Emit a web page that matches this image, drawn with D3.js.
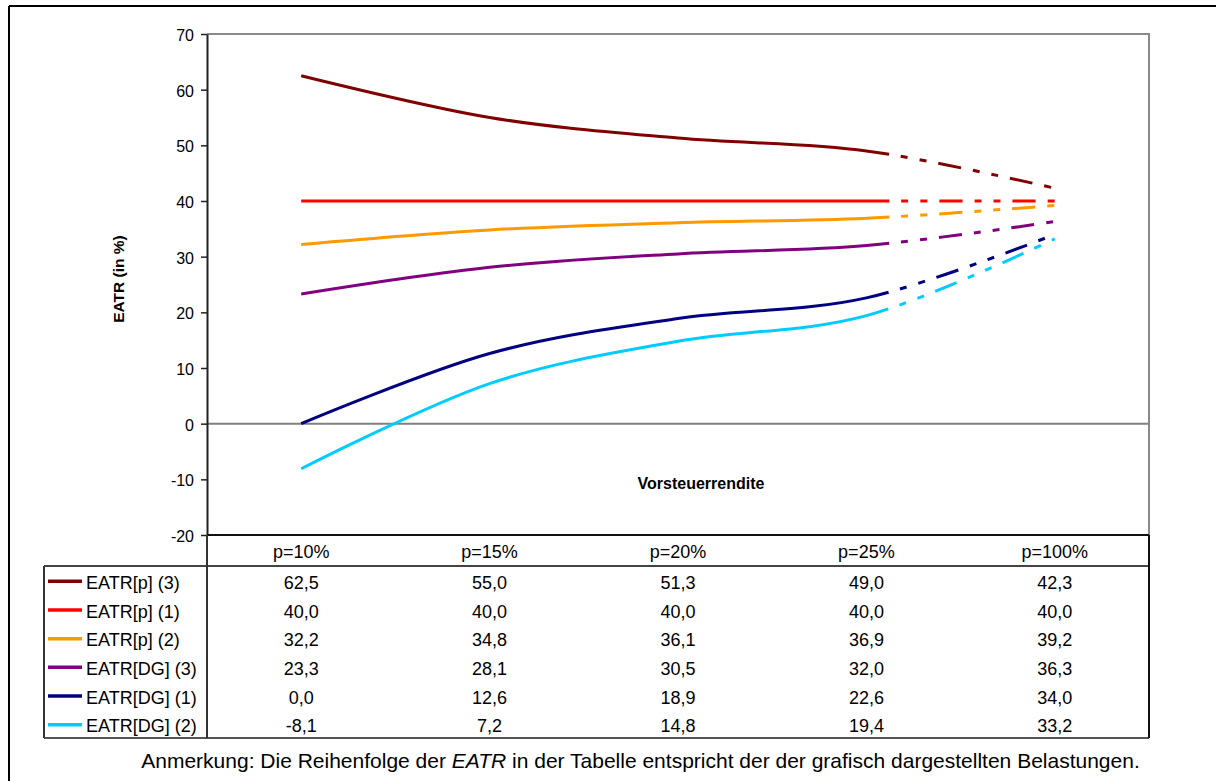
<!DOCTYPE html>
<html>
<head>
<meta charset="utf-8">
<script src="https://cdn.jsdelivr.net/npm/d3@7"></script>
<style>
  html, body { margin: 0; padding: 0; background: #fff; }
  svg { display: block; font-family: "Liberation Sans", Arial, sans-serif; }
</style>
</head>
<body>
<svg id="chart" width="1216" height="781"></svg>
<script>
// Pre-tax return categories (columns of the data table)
const categories = ["p=10%", "p=15%", "p=20%", "p=25%", "p=100%"];

// Effective average tax rates in %
const eatrP3  = [62.5, 55.0, 51.3, 49.0, 42.3];
const eatrP1  = [40.0, 40.0, 40.0, 40.0, 40.0];
const eatrP2  = [32.2, 34.8, 36.1, 36.9, 39.2];
const eatrDG3 = [23.3, 28.1, 30.5, 32.0, 36.3];
const eatrDG1 = [0.0, 12.6, 18.9, 22.6, 34.0];
const eatrDG2 = [-8.1, 7.2, 14.8, 19.4, 33.2];

const seriesLabels = ["EATR[p] (3)", "EATR[p] (1)", "EATR[p] (2)", "EATR[DG] (3)", "EATR[DG] (1)", "EATR[DG] (2)"];
const seriesValues = [eatrP3, eatrP1, eatrP2, eatrDG3, eatrDG1, eatrDG2];
const seriesColors = ["#800000", "#FF0000", "#FF9900", "#800080", "#000080", "#00CCFF"];

const yTicks = [-20, -10, 0, 10, 20, 30, 40, 50, 60, 70];

// ---- layout ----
const plot = { left: 207, right: 1149, top: 34, bottom: 535 };
const tableLeft = 44;
const headerBottom = 566;
const rowH = 28.67;
const tableBottom = headerBottom + seriesLabels.length * rowH;
const dashStartCategory = "p=25%";
const dashPattern = [23, 12, 7, 12, 7, 12];
const tableFont = 18;

const svg = d3.select("#chart");

const de = d3.formatLocale({ decimal: ",", thousands: ".", grouping: [3], currency: ["", " €"], minus: "-" });
const fmtVal = de.format(".1f");
const fmtTick = de.format("d");

const x = d3.scaleBand().domain(categories).range([plot.left, plot.right]);
const cx = c => x(c) + x.bandwidth() / 2;
const y = d3.scaleLinear().domain([-20, 70]).range([plot.bottom, plot.top]);

// outer frame
svg.append("line").attr("x1", 9).attr("x2", 1216).attr("y1", 6).attr("y2", 6)
  .attr("stroke", "#000").attr("stroke-width", 2);
svg.append("line").attr("x1", 9).attr("x2", 9).attr("y1", 6).attr("y2", 781)
  .attr("stroke", "#000").attr("stroke-width", 2);

// plot area border (top / right)
svg.append("path")
  .attr("d", `M${plot.left},${plot.top}H${plot.right}V${plot.bottom}`)
  .attr("fill", "none").attr("stroke", "#8a8a8a").attr("stroke-width", 2);

// zero line
svg.append("line")
  .attr("x1", plot.left).attr("x2", plot.right)
  .attr("y1", y(0)).attr("y2", y(0))
  .attr("stroke", "#808080").attr("stroke-width", 2);

// y axis
const yAxis = svg.append("g")
  .attr("transform", `translate(${plot.left},0)`)
  .call(d3.axisLeft(y).tickValues(yTicks).tickFormat(fmtTick).tickSize(6).tickSizeOuter(0).tickPadding(7));
yAxis.select(".domain").attr("stroke", "#222").attr("stroke-width", 2);
yAxis.selectAll(".tick line").attr("stroke", "#222").attr("stroke-width", 1.5);
yAxis.selectAll(".tick text")
  .attr("font-size", 16).attr("fill", "#000").attr("dy", "0.4em")
  .attr("font-family", "'Liberation Sans', Arial, sans-serif");

// axis titles
svg.append("text")
  .attr("transform", `translate(123.5,279) rotate(-90)`)
  .attr("text-anchor", "middle")
  .attr("font-size", 15.5).attr("font-weight", "bold")
  .text("EATR (in %)");
svg.append("text")
  .attr("x", 701).attr("y", 488.5)
  .attr("text-anchor", "middle")
  .attr("font-size", 16).attr("font-weight", "bold")
  .text("Vorsteuerrendite");

// ---- series lines: smoothed, solid up to p=25%, dash-dot-dot afterwards ----
const line = d3.line()
  .x((d, i) => cx(categories[i]))
  .y(d => y(d))
  .curve(d3.curveCardinal.tension(0));

const xDash = cx(dashStartCategory);
const period = d3.sum(dashPattern);

seriesValues.forEach((vals, si) => {
  const path = svg.append("path")
    .attr("d", line(vals))
    .attr("fill", "none")
    .attr("stroke", seriesColors[si])
    .attr("stroke-width", 3)
    .attr("stroke-linejoin", "round")
    .attr("stroke-linecap", "butt");
  const node = path.node();
  const total = node.getTotalLength();
  // length along the curve where the dashed part begins
  let lo = 0, hi = total;
  for (let k = 0; k < 40; k++) {
    const mid = (lo + hi) / 2;
    if (node.getPointAtLength(mid).x < xDash) lo = mid; else hi = mid;
  }
  const reps = Math.ceil((total - lo) / period) + 2;
  const arr = [lo, 0];
  for (let r = 0; r < reps; r++) arr.push(...dashPattern);
  path.attr("stroke-dasharray", arr.join(","));
});

// ---- data table ----
const tableStroke = "#333";
// x axis line / header top
svg.append("line").attr("x1", plot.left).attr("x2", plot.right)
  .attr("y1", plot.bottom).attr("y2", plot.bottom)
  .attr("stroke", "#111").attr("stroke-width", 2);
// header bottom
svg.append("line").attr("x1", tableLeft).attr("x2", plot.right)
  .attr("y1", headerBottom).attr("y2", headerBottom)
  .attr("stroke", "#444").attr("stroke-width", 2);
// table bottom
svg.append("line").attr("x1", tableLeft).attr("x2", plot.right)
  .attr("y1", tableBottom).attr("y2", tableBottom)
  .attr("stroke", "#555").attr("stroke-width", 2);
// left edge
svg.append("line").attr("x1", tableLeft).attr("x2", tableLeft)
  .attr("y1", headerBottom).attr("y2", tableBottom)
  .attr("stroke", tableStroke).attr("stroke-width", 2);
// axis extension through the table
svg.append("line").attr("x1", plot.left).attr("x2", plot.left)
  .attr("y1", plot.bottom).attr("y2", tableBottom)
  .attr("stroke", tableStroke).attr("stroke-width", 2);
// right edge
svg.append("line").attr("x1", plot.right).attr("x2", plot.right)
  .attr("y1", plot.bottom).attr("y2", tableBottom)
  .attr("stroke", "#111").attr("stroke-width", 2);

// header labels
svg.append("g").selectAll("text")
  .data(categories).join("text")
  .attr("x", d => cx(d))
  .attr("y", (plot.bottom + headerBottom) / 2 + 7)
  .attr("text-anchor", "middle")
  .attr("font-size", tableFont)
  .text(d => d);

// rows
const rows = svg.append("g").selectAll("g")
  .data(seriesLabels).join("g")
  .attr("transform", (d, i) => `translate(0,${headerBottom + rowH * (i + 0.5)})`);

rows.append("line")
  .attr("x1", 48).attr("x2", 82).attr("y1", 1).attr("y2", 1)
  .attr("stroke", (d, i) => seriesColors[i]).attr("stroke-width", 3.5);

rows.append("text")
  .attr("x", 86).attr("y", 8.7)
  .attr("font-size", tableFont)
  .text(d => d);

rows.each(function (d, i) {
  d3.select(this).selectAll("text.val")
    .data(seriesValues[i]).join("text")
    .attr("class", "val")
    .attr("x", (v, j) => cx(categories[j]))
    .attr("y", 8.7)
    .attr("text-anchor", "middle")
    .attr("font-size", tableFont)
    .text(v => fmtVal(v));
});

// note below the table
const note = svg.append("text")
  .attr("x", 640.5).attr("y", 768)
  .attr("text-anchor", "middle")
  .attr("font-size", 21);
note.append("tspan").text("Anmerkung: Die Reihenfolge der ");
note.append("tspan").attr("font-style", "italic").text("EATR");
note.append("tspan").text(" in der Tabelle entspricht der der grafisch dargestellten Belastungen.");
</script>
</body>
</html>
